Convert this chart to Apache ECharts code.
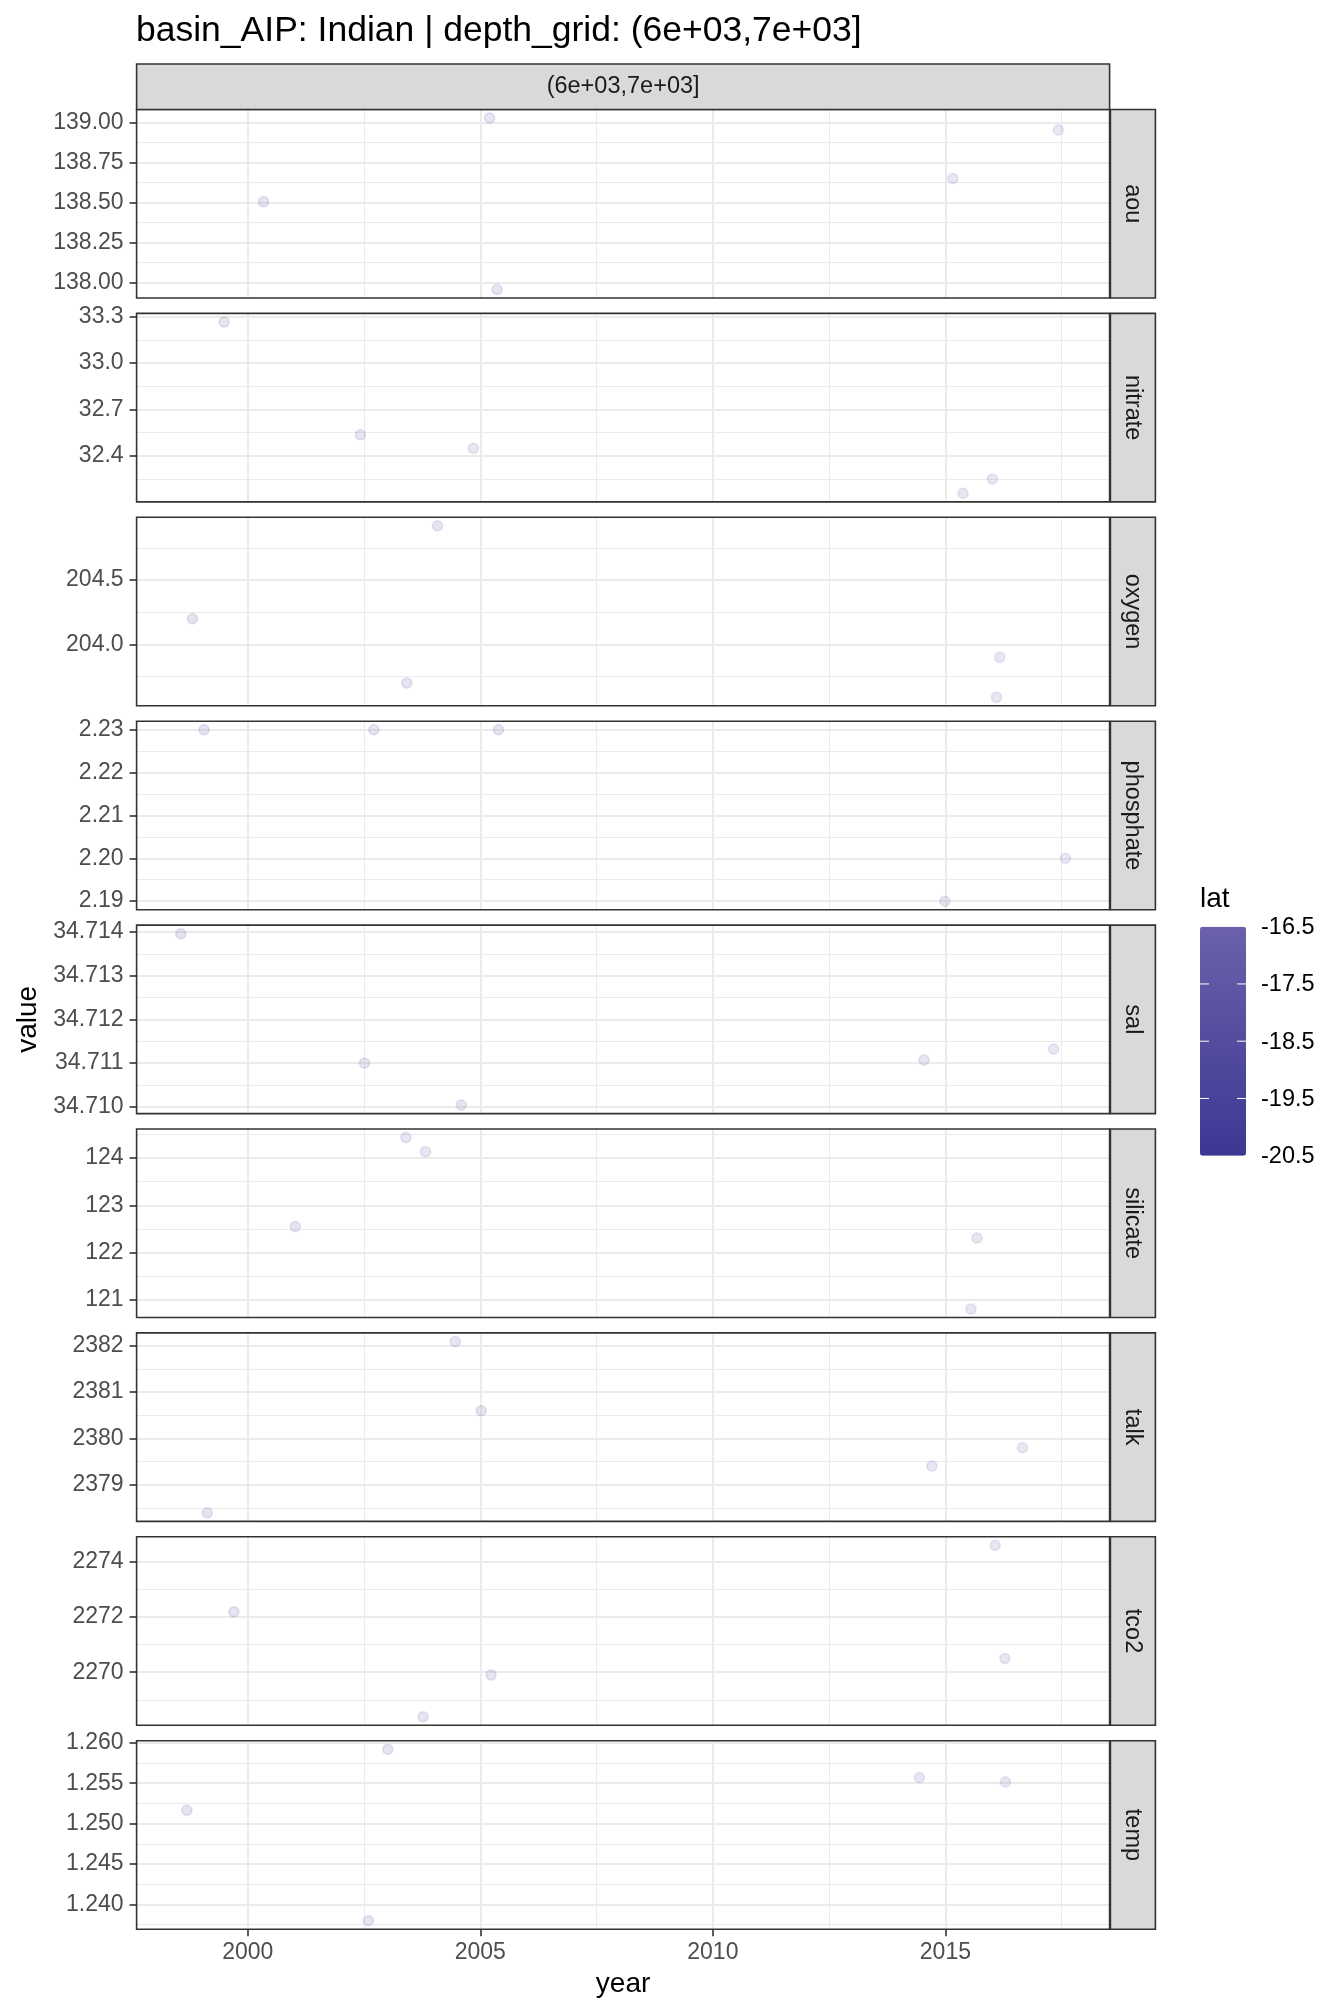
<!DOCTYPE html>
<html><head><meta charset="utf-8">
<script src="https://cdn.jsdelivr.net/npm/echarts@6/dist/echarts.min.js"></script>
<style>html,body{margin:0;padding:0;background:#fff}#c{width:1344px;height:2016px}</style>
</head><body><div id="c"></div>
<script>
// ---------------- data ----------------
const variables = ['aou','nitrate','oxygen','phosphate','sal','silicate','talk','tco2','temp'];

const aou_year  = [2005.20, 2000.34, 2005.36, 2017.43, 2015.16];
const aou_value = [139.029, 138.506, 137.958, 138.955, 138.652];
const aou_lat   = [-18.6, -19.8, -18.9, -17.2, -18.0];

const nitrate_year  = [1999.49, 2002.42, 2004.85, 2016.01, 2015.38];
const nitrate_value = [33.266, 32.537, 32.449, 32.250, 32.158];
const nitrate_lat   = [-19.5, -18.8, -18.6, -17.6, -18.0];

const oxygen_year  = [2004.08, 1998.81, 2003.42, 2016.17, 2016.10];
const oxygen_value = [204.92, 204.20, 203.70, 203.90, 203.59];
const oxygen_lat   = [-18.7, -19.9, -18.8, -17.5, -17.7];

const phosphate_year  = [1999.06, 2002.71, 2005.39, 2017.58, 2014.99];
const phosphate_value = [2.2300, 2.2300, 2.2300, 2.2000, 2.1900];
const phosphate_lat   = [-19.7, -18.8, -18.9, -17.2, -18.1];

const sal_year  = [1998.56, 2002.51, 2004.59, 2014.54, 2017.33];
const sal_value = [34.71396, 34.71100, 34.71004, 34.71107, 34.71132];
const sal_lat   = [-20.0, -18.8, -18.6, -18.2, -17.2];

const silicate_year  = [2003.40, 2003.82, 2001.02, 2015.68, 2015.55];
const silicate_value = [124.43, 124.13, 122.55, 122.31, 120.81];
const silicate_lat   = [-18.8, -18.7, -19.3, -17.8, -17.9];

const talk_year  = [2004.46, 2005.02, 1999.13, 2016.66, 2014.71];
const talk_value = [2382.09, 2380.60, 2378.40, 2379.80, 2379.41];
const talk_lat   = [-18.6, -18.9, -19.7, -17.4, -18.2];

const tco2_year  = [1999.70, 2005.23, 2003.77, 2016.07, 2016.28];
const tco2_value = [2272.19, 2269.90, 2268.39, 2274.59, 2270.50];
const tco2_lat   = [-19.5, -18.9, -18.7, -17.6, -17.5];

const temp_year  = [2003.01, 1998.69, 2002.59, 2014.44, 2016.29];
const temp_value = [1.2592, 1.25164, 1.23799, 1.25569, 1.25516];
const temp_lat   = [-18.7, -19.9, -18.8, -18.2, -17.5];

// tick labels
const year_ticks = [2000, 2005, 2010, 2015];
const year_minor = [2002.5, 2007.5, 2012.5, 2017.5];
const aou_ticks = [138.00, 138.25, 138.50, 138.75, 139.00];
const aou_minor = [138.125, 138.375, 138.625, 138.875];
const nitrate_ticks = [32.4, 32.7, 33.0, 33.3];
const nitrate_minor = [32.25, 32.55, 32.85, 33.15];
const oxygen_ticks = [204.0, 204.5];
const oxygen_minor = [203.75, 204.25, 204.75];
const phosphate_ticks = [2.19, 2.20, 2.21, 2.22, 2.23];
const phosphate_minor = [2.195, 2.205, 2.215, 2.225];
const sal_ticks = [34.710, 34.711, 34.712, 34.713, 34.714];
const sal_minor = [34.7105, 34.7115, 34.7125, 34.7135];
const silicate_ticks = [121, 122, 123, 124];
const silicate_minor = [121.5, 122.5, 123.5, 124.5];
const talk_ticks = [2379, 2380, 2381, 2382];
const talk_minor = [2378.5, 2379.5, 2380.5, 2381.5];
const tco2_ticks = [2270, 2272, 2274];
const tco2_minor = [2269, 2271, 2273];
const temp_ticks = [1.240, 1.245, 1.250, 1.255, 1.260];
const temp_minor = [1.2375, 1.2425, 1.2475, 1.2525, 1.2575];
const tick_decimals = [2, 1, 1, 2, 3, 0, 0, 0, 3];
const lat_ticks = [-16.5, -17.5, -18.5, -19.5, -20.5];
const lat_range = [-20.5, -16.5];

const years  = [aou_year, nitrate_year, oxygen_year, phosphate_year, sal_year, silicate_year, talk_year, tco2_year, temp_year];
const values = [aou_value, nitrate_value, oxygen_value, phosphate_value, sal_value, silicate_value, talk_value, tco2_value, temp_value];
const lats   = [aou_lat, nitrate_lat, oxygen_lat, phosphate_lat, sal_lat, silicate_lat, talk_lat, tco2_lat, temp_lat];
const majors = [aou_ticks, nitrate_ticks, oxygen_ticks, phosphate_ticks, sal_ticks, silicate_ticks, talk_ticks, tco2_ticks, temp_ticks];
const minors = [aou_minor, nitrate_minor, oxygen_minor, phosphate_minor, sal_minor, silicate_minor, talk_minor, tco2_minor, temp_minor];

// ---------------- layout ----------------
const FONT = '"Liberation Sans", Arial, Helvetica, sans-serif';
const L = 136.6, W = 973, T0 = 109.5, PITCH = 203.9, H = 188.5;
const STRIP_W = 45;
const GRID_C = '#EBEBEB', BORDER_C = '#333333';
const TICK_FS = 23, STRIP_FS = 23.5;

function expand(v) {
  const lo = Math.min(...v), hi = Math.max(...v), r = hi - lo;
  return [lo - 0.05 * r, hi + 0.05 * r];
}
const xr = expand([].concat(...years));

const grids = [], xAxes = [], yAxes = [], series = [], ringSeries = [], xMinor = [], yMinor = [];
variables.forEach((name, i) => {
  const top = T0 + i * PITCH;
  grids.push({left: L, top: top, width: W, height: H, show: true, borderColor: BORDER_C, borderWidth: 1.6, backgroundColor: 'rgba(0,0,0,0)', z: 5});
  const last = i === variables.length - 1;
  xAxes.push({
    type: 'value', gridIndex: i, min: xr[0], max: xr[1],
    axisLine: {show: false},
    axisTick: {show: last, customValues: year_ticks, length: 7, lineStyle: {color: BORDER_C, width: 1.6}},
    axisLabel: {show: last, customValues: year_ticks, color: '#4D4D4D', fontSize: TICK_FS, fontFamily: FONT, margin: 12, formatter: v => String(v)},
    splitLine: {show: true, lineStyle: {color: GRID_C, width: 2}}
  });
  xMinor.push({
    type: 'value', gridIndex: i, min: xr[0], max: xr[1],
    axisLine: {show: false},
    axisTick: {show: false, customValues: year_minor},
    axisLabel: {show: false, customValues: year_minor},
    splitLine: {show: true, lineStyle: {color: GRID_C, width: 1}}
  });
  const yr = expand(values[i]);
  const dec = tick_decimals[i];
  yAxes.push({
    type: 'value', gridIndex: i, min: yr[0], max: yr[1],
    axisLine: {show: false},
    axisTick: {show: true, customValues: majors[i], length: 7, lineStyle: {color: BORDER_C, width: 1.6}},
    axisLabel: {show: true, customValues: majors[i], color: '#4D4D4D', fontSize: TICK_FS, fontFamily: FONT, margin: 13, formatter: v => Number(v).toFixed(dec)},
    splitLine: {show: true, lineStyle: {color: GRID_C, width: 2}}
  });
  yMinor.push({
    type: 'value', gridIndex: i, min: yr[0], max: yr[1],
    axisLine: {show: false},
    axisTick: {show: false, customValues: minors[i]},
    axisLabel: {show: false, customValues: minors[i]},
    splitLine: {show: true, lineStyle: {color: GRID_C, width: 1}}
  });
  const pts = years[i].map((y, k) => [y, values[i][k], lats[i][k]]);
  // faint outline ring under each point (mimics the anti-aliased edge of the translucent dots)
  ringSeries.push({
    type: 'scatter', name: name + '_edge', xAxisIndex: i, yAxisIndex: i,
    data: pts, symbol: 'emptyCircle', symbolSize: 10,
    itemStyle: {opacity: 0.1, borderWidth: 1.2}, silent: true, z: 2
  });
  series.push({
    type: 'scatter', name: name, xAxisIndex: i, yAxisIndex: i,
    data: pts, symbol: 'circle', symbolSize: 10.5,
    itemStyle: {opacity: 0.14},
    z: 3
  });
});

// ---------------- decorations (strips, titles, legend) ----------------
const graphics = [];
graphics.push({type: 'text', x: 136, y: 31, style: {text: 'basin_AIP: Indian | depth_grid: (6e+03,7e+03]', font: '35.5px ' + FONT, fill: '#000', align: 'left', verticalAlign: 'middle'}});
// top strip
graphics.push({type: 'rect', shape: {x: L, y: 64, width: W, height: T0 - 64}, style: {fill: '#D9D9D9', stroke: BORDER_C, lineWidth: 1.6}, z: 10});
graphics.push({type: 'text', x: L + W / 2, y: (64 + T0) / 2, style: {text: '(6e+03,7e+03]', font: STRIP_FS + 'px ' + FONT, fill: '#1A1A1A', align: 'center', verticalAlign: 'middle'}, z: 11});
variables.forEach((name, i) => {
  const top = T0 + i * PITCH;
  graphics.push({type: 'rect', shape: {x: L + W + 0.8, y: top, width: STRIP_W, height: H}, style: {fill: '#D9D9D9', stroke: BORDER_C, lineWidth: 1.6}, z: 10});
  graphics.push({type: 'text', x: L + W + 0.8 + STRIP_W / 2, y: top + H / 2, rotation: -Math.PI / 2, style: {text: name, font: STRIP_FS + 'px ' + FONT, fill: '#1A1A1A', align: 'center', verticalAlign: 'middle'}, z: 11});
});
// axis titles
graphics.push({type: 'text', x: L + W / 2, y: 1984, style: {text: 'year', font: '28px ' + FONT, fill: '#000', align: 'center', verticalAlign: 'middle'}});
graphics.push({type: 'text', x: 28, y: T0 + (8 * PITCH + H) / 2, rotation: Math.PI / 2, style: {text: 'value', font: '28px ' + FONT, fill: '#000', align: 'center', verticalAlign: 'middle'}});
// legend
const CB_X = 1200, CB_Y = 926.7, CB_W = 46, CB_H = 229;
graphics.push({type: 'text', x: CB_X, y: 899, style: {text: 'lat', font: '28px ' + FONT, fill: '#000', align: 'left', verticalAlign: 'middle'}});
lat_ticks.forEach(v => {
  const y = CB_Y + (lat_range[1] - v) / (lat_range[1] - lat_range[0]) * CB_H;
  graphics.push({type: 'text', x: 1261, y: y + 1, style: {text: v.toFixed(1), font: '23.5px ' + FONT, fill: '#000', align: 'left', verticalAlign: 'middle'}});
  if (v !== lat_range[0] && v !== lat_range[1]) {
    graphics.push({type: 'line', shape: {x1: CB_X, y1: y, x2: CB_X + 9, y2: y}, style: {stroke: '#fff', lineWidth: 1}, z: 20});
    graphics.push({type: 'line', shape: {x1: CB_X + CB_W - 9, y1: y, x2: CB_X + CB_W, y2: y}, style: {stroke: '#fff', lineWidth: 1}, z: 20});
  }
});

const chart = echarts.init(document.getElementById('c'), null, {renderer: 'canvas'});
const allSeries = series.concat(ringSeries);
chart.setOption({
  backgroundColor: '#fff',
  animation: false,
  grid: grids,
  xAxis: xAxes.concat(xMinor),
  yAxis: yAxes.concat(yMinor),
  visualMap: {
    type: 'continuous', min: lat_range[0], max: lat_range[1], dimension: 2,
    seriesIndex: allSeries.map((_, i) => i),
    inRange: {color: ['#3C3893', '#6B61AB']},
    left: CB_X, top: CB_Y, itemWidth: CB_W, itemHeight: CB_H, padding: 0,
    calculable: false, hoverLink: false, text: null, showLabel: false
  },
  graphic: graphics,
  series: allSeries
});
</script>
</body></html>
